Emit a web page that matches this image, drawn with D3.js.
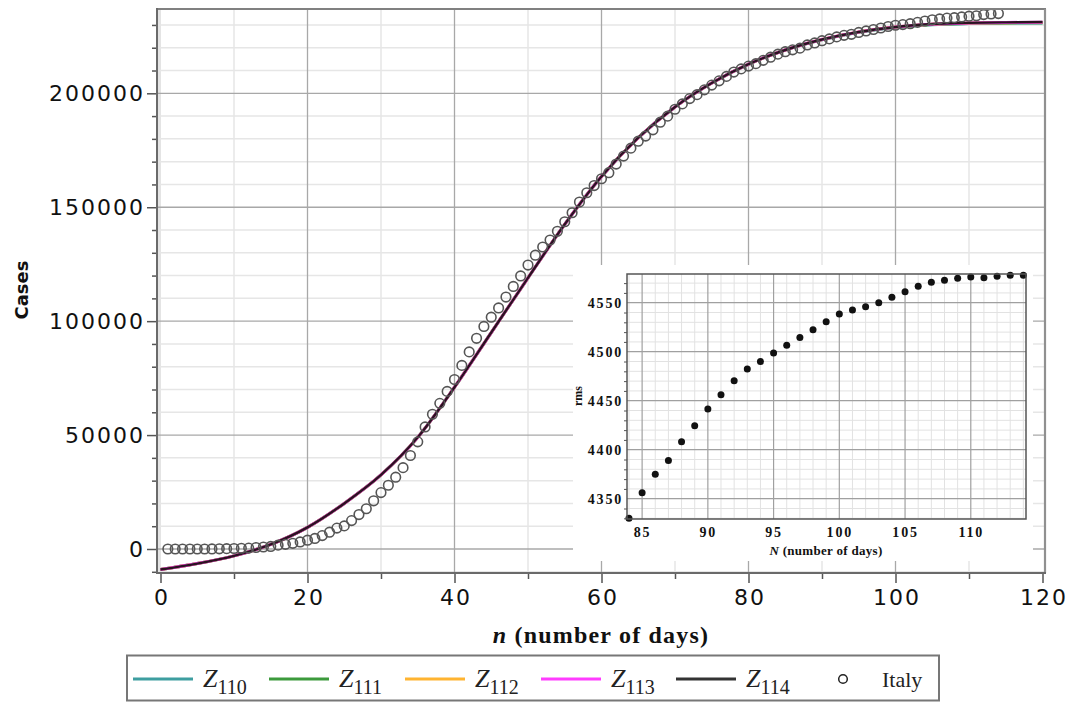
<!DOCTYPE html>
<html><head><meta charset="utf-8">
<script src="https://cdn.jsdelivr.net/npm/d3@7"></script>
<style>
html,body{margin:0;padding:0;background:#fff;}
svg{display:block;}
</style></head>
<body>
<svg id="c" width="1071" height="702"></svg>
<script>
// ---------- DATA ----------
const italyDays = d3.range(1, 115);
const italyCases = [3,3,3,3,3,3,20,79,150,229,322,400,650,888,1128,1694,2036,2502,3089,3858,
 4636,5883,7375,9172,10149,12462,15113,17660,21157,24747,27980,31506,35713,41035,47021,53578,59138,63927,69176,74386,
 80589,86498,92472,97689,101739,105792,110574,115242,119827,124632,128948,132547,135586,139422,143626,147577,152271,156363,159516,162488,
 165155,168941,172434,175925,178972,181228,183957,187327,189973,192994,195351,197675,199414,201505,203591,205463,207428,209328,210717,211938,
 213013,214457,215858,217185,218268,219070,219814,221216,222104,223096,223885,224760,225435,225886,226699,227364,228006,228658,229327,229858,
 230158,230555,231139,231732,232248,232664,232997,233197,233515,233836,234013,234531,234801,234998];

const fitDays = [0,5,10,15,20,25,30,35,40,45,50,55,60,65,70,75,80,85,90,95,100,105,110,115,120];
const z110 = [-9000,-6400,-3000,2000,9500,20000,32500,49000,71000,95000,119000,142500,163500,180500,194000,204500,212800,219000,223500,226800,228900,230100,230600,230800,230900];
const z111 = [-9000,-6400,-3000,2000,9500,20000,32500,49000,71000,95000,119000,142500,163500,180500,194000,204500,212800,219000,223550,226850,229000,230200,230700,230900,231000];
const z112 = [-9000,-6400,-3000,2000,9500,20000,32500,49000,71000,95000,119000,142500,163500,180500,194000,204500,212800,219000,223600,226900,229050,230300,230800,231000,231100];
const z113 = [-9000,-6400,-3000,2000,9500,20000,32500,49000,71000,95000,119000,142500,163500,180500,194000,204500,212800,219000,223600,226900,229100,230350,230850,231100,231200];
const z114 = [-9000,-6400,-3000,2000,9500,20000,32500,49000,71000,95000,119000,142500,163500,180500,194000,204500,212800,219000,223600,226900,229100,230400,230900,231150,231300];
const seriesNames = ["110","111","112","113","114"];
const seriesColors = ["#3e9ea0","#3c9a3c","#ffb431","#ff3cff","#333333"];

const xMajorTicks = [0,20,40,60,80,100,120];
const xMinorTicks = [10,30,50,70,90,110];
const yMajorTicks = [0,50000,100000,150000,200000];
const yMinorTicks = [-10000,10000,20000,30000,40000,60000,70000,80000,90000,110000,120000,130000,140000,160000,170000,180000,190000,210000,220000,230000];

const insetDays = d3.range(84, 115);
const insetRms = [4330,4356,4375,4389,4408,4424.5,4441.5,4456,4470.4,4482.3,4490,4498.6,4506.5,4514.6,4522.4,4530.6,4538.5,4542.6,4546,4550,4555.5,4561.2,4566.7,4570.8,4572.9,4575,4576.3,4575.6,4577,4578,4578];
const insetXTicks = [85,90,95,100,105,110];
const insetYTicks = [4350,4400,4450,4500,4550];

// ---------- LAYOUT ----------
const svg = d3.select("#c");
const L = 157, R = 1045, T = 9, B = 573;
const x = d3.scaleLinear().domain([0,120]).range([160.5,1042.5]);
const y = d3.scaleLinear().domain([0,200000]).range([549,93.3]);

const g = svg.append("g");
g.append("rect").attr("x",L).attr("y",T).attr("width",4).attr("height",B-T).attr("fill","#e4e4e4");

// grid
const yMinorIn = yMinorTicks.filter(v => y(v) > T+1 && y(v) < B-1);
g.selectAll(".hmin").data(yMinorIn).join("line")
  .attr("x1",L).attr("x2",R).attr("y1",d=>y(d)).attr("y2",d=>y(d))
  .attr("stroke","#e6e6e6").attr("stroke-width",1.5);
g.selectAll(".vmin").data(xMinorTicks).join("line")
  .attr("x1",d=>x(d)).attr("x2",d=>x(d)).attr("y1",T).attr("y2",B)
  .attr("stroke","#e6e6e6").attr("stroke-width",1.5);
g.selectAll(".hmaj").data(yMajorTicks).join("line")
  .attr("x1",L).attr("x2",R).attr("y1",d=>y(d)).attr("y2",d=>y(d))
  .attr("stroke","#a8a8a8").attr("stroke-width",1.3);
g.selectAll(".vmaj").data(xMajorTicks.filter(d=>d>0 && d<120)).join("line")
  .attr("x1",d=>x(d)).attr("x2",d=>x(d)).attr("y1",T).attr("y2",B)
  .attr("stroke","#a8a8a8").attr("stroke-width",1.3);

// curves
const line = d3.line().x((d,i)=>x(fitDays[i])).y(d=>y(d)).curve(d3.curveMonotoneX);
const allZ = [z110,z111,z112,z113,z114];
allZ.forEach((arr,k)=>{
  g.append("path").attr("d",line(arr)).attr("fill","none")
   .attr("stroke", k===4 ? "#2a1420" : seriesColors[k]).attr("stroke-width", k===4 ? 2.4 : 3);
});

// Italy data
g.selectAll(".pt").data(italyCases).join("circle")
  .attr("cx",(d,i)=>x(italyDays[i])).attr("cy",d=>y(d)).attr("r",4.8)
  .attr("fill","none").attr("stroke","#555").attr("stroke-width",1.6);

// frame
g.append("line").attr("x1",L).attr("x2",R+1).attr("y1",T).attr("y2",T).attr("stroke","#808080").attr("stroke-width",2.2);
g.append("line").attr("x1",R).attr("x2",R).attr("y1",T).attr("y2",B).attr("stroke","#909090").attr("stroke-width",2.2);

// axes
const fontTick = "'DejaVu Sans', Verdana, sans-serif";
const yAxMin = g.append("g").attr("transform",`translate(${L},0)`)
  .call(d3.axisLeft(y).tickValues(yMinorIn).tickSize(5).tickFormat(""));
const yAx = g.append("g").attr("transform",`translate(${L},0)`)
  .call(d3.axisLeft(y).tickValues(yMajorTicks).tickSize(10).tickPadding(2).tickFormat(d3.format("d")));
const xAxMin = g.append("g").attr("transform",`translate(0,${B})`)
  .call(d3.axisBottom(x).tickValues(xMinorTicks).tickSize(6).tickFormat(""));
const xAx = g.append("g").attr("transform",`translate(0,${B})`)
  .call(d3.axisBottom(x).tickValues(xMajorTicks).tickSize(10).tickPadding(6));
[yAxMin,yAx,xAxMin,xAx].forEach(a=>{
  a.select(".domain").remove();
  a.selectAll(".tick line").attr("stroke","#555").attr("stroke-width",1.5);
  a.selectAll("text").attr("fill","#111").style("font-family",fontTick).style("font-size","22px").style("letter-spacing","2px");
});
xAx.selectAll("text").attr("dx","1px");
g.append("line").attr("x1",L).attr("x2",L).attr("y1",T-1).attr("y2",B+1).attr("stroke","#6a6a6a").attr("stroke-width",2);
g.append("line").attr("x1",L).attr("x2",R+1).attr("y1",B).attr("y2",B).attr("stroke","#6a6a6a").attr("stroke-width",2);

// axis titles
const xt = svg.append("text").attr("x",601).attr("y",643).attr("text-anchor","middle")
  .style("font-family","'Liberation Serif','Times New Roman',serif").style("font-size","24px")
  .style("font-weight","bold").style("letter-spacing","1.2px").attr("fill","#111");
xt.append("tspan").style("font-style","italic").text("n");
xt.append("tspan").text(" (number of days)");
svg.append("text").attr("transform","translate(28,290) rotate(-90)").attr("text-anchor","middle")
  .style("font-family",fontTick).style("font-size","18px").style("font-weight","bold")
  .attr("fill","#111").text("Cases");

// ---------- INSET ----------
const IL = 627, IR = 1026, IT = 274, IB = 519;
const xi = d3.scaleLinear().domain([83.85,114.2]).range([IL,IR]);
const yi = d3.scaleLinear().domain([4329.3,4579.3]).range([IB,IT]);
const gi = svg.append("g");
gi.append("rect").attr("x",573).attr("y",265).attr("width",460).attr("height",296).attr("fill","#fff");
const ixMinor = d3.range(84,115).filter(d=>d%5!==0);
const iyMinor = d3.range(4330,4580,10).filter(d=>d%50!==0);
gi.selectAll(".ivm").data(ixMinor).join("line")
  .attr("x1",d=>xi(d)).attr("x2",d=>xi(d)).attr("y1",IT).attr("y2",IB).attr("stroke","#e2e2e2").attr("stroke-width",1);
gi.selectAll(".ihm").data(iyMinor).join("line")
  .attr("x1",IL).attr("x2",IR).attr("y1",d=>yi(d)).attr("y2",d=>yi(d)).attr("stroke","#e2e2e2").attr("stroke-width",1);
gi.selectAll(".ivM").data(insetXTicks).join("line")
  .attr("x1",d=>xi(d)).attr("x2",d=>xi(d)).attr("y1",IT).attr("y2",IB).attr("stroke","#a0a0a0").attr("stroke-width",1.2);
gi.selectAll(".ihM").data(insetYTicks).join("line")
  .attr("x1",IL).attr("x2",IR).attr("y1",d=>yi(d)).attr("y2",d=>yi(d)).attr("stroke","#a0a0a0").attr("stroke-width",1.2);
gi.selectAll(".idot").data(insetRms).join("circle")
  .attr("cx",(d,i)=>xi(insetDays[i])).attr("cy",d=>yi(d)).attr("r",3.5).attr("fill","#111");
gi.append("rect").attr("x",IL).attr("y",IT).attr("width",IR-IL).attr("height",IB-IT)
  .attr("fill","none").attr("stroke","#555").attr("stroke-width",1.5);
const fontInset = "'Liberation Serif','Times New Roman',serif";
const iyAxMin = gi.append("g").attr("transform",`translate(${IL},0)`)
  .call(d3.axisLeft(yi).tickValues(iyMinor).tickSize(3).tickFormat(""));
const iyAx = gi.append("g").attr("transform",`translate(${IL},0)`)
  .call(d3.axisLeft(yi).tickValues(insetYTicks).tickSize(0).tickPadding(4).tickFormat(d3.format("d")));
const ixAx = gi.append("g").attr("transform",`translate(0,${IB})`)
  .call(d3.axisBottom(xi).tickValues(insetXTicks).tickSize(0).tickPadding(8));
[iyAxMin,iyAx,ixAx].forEach(a=>{
  a.select(".domain").remove();
  a.selectAll(".tick line").attr("stroke","#555").attr("stroke-width",1);
  a.selectAll("text").attr("fill","#111").style("font-family",fontInset).style("font-size","14px")
   .style("font-weight","bold").style("letter-spacing","1.8px");
});
const it = gi.append("text").attr("x",826).attr("y",555).attr("text-anchor","middle")
  .style("font-family",fontInset).style("font-size","13px").style("font-weight","bold")
  .style("letter-spacing","0.3px").attr("fill","#111");
it.append("tspan").style("font-style","italic").text("N");
it.append("tspan").text(" (number of days)");
gi.append("text").attr("transform","translate(582,396) rotate(-90)").attr("text-anchor","middle")
  .style("font-family",fontInset).style("font-size","12px").style("font-weight","bold").attr("fill","#111").text("rms");

// ---------- LEGEND ----------
const lg = svg.append("g");
lg.append("rect").attr("x",127).attr("y",655.5).attr("width",812).attr("height",45)
  .attr("fill","#fff").attr("stroke","#777").attr("stroke-width",2);
const legX = [133,269,405,541,676];
const ly = 679;
seriesNames.forEach((n,k)=>{
  lg.append("line").attr("x1",legX[k]).attr("x2",legX[k]+60).attr("y1",ly).attr("y2",ly)
    .attr("stroke",seriesColors[k]).attr("stroke-width",3);
  const t = lg.append("text").attr("x",legX[k]+70).attr("y",687)
    .style("font-family",fontInset).attr("fill","#222");
  t.append("tspan").style("font-style","italic").style("font-size","26px").text("Z");
  t.append("tspan").attr("dy",7).style("font-size","20px").text(n);
});
lg.append("circle").attr("cx",843).attr("cy",ly).attr("r",4.3).attr("fill","none").attr("stroke","#222").attr("stroke-width",1.5);
lg.append("text").attr("x",882).attr("y",687).style("font-family",fontInset).style("font-size","22px").attr("fill","#222").text("Italy");
</script>
</body></html>
